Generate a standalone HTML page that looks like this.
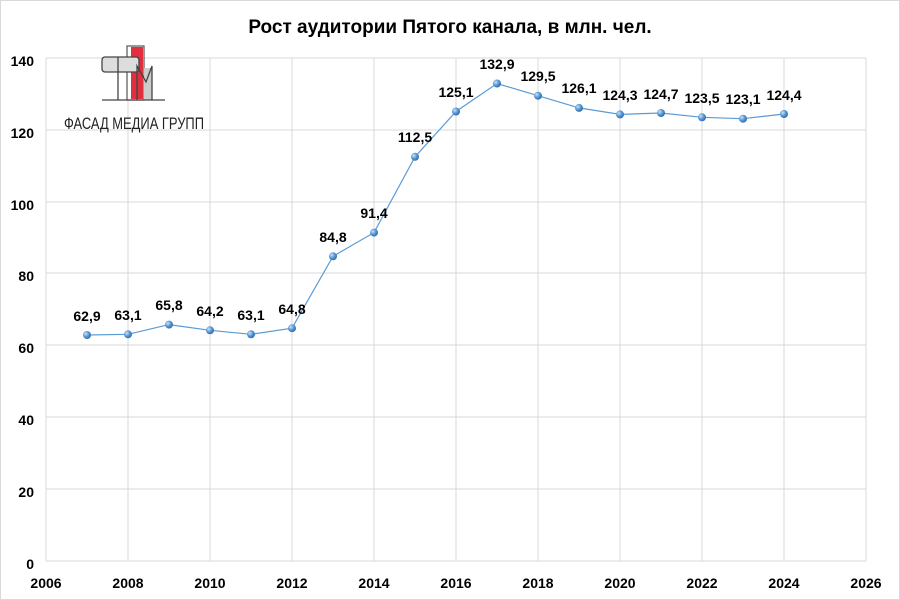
<!DOCTYPE html>
<html><head><meta charset="utf-8"><style>
body{margin:0;background:#fff}
svg{display:block;font-family:"Liberation Sans",Arial,sans-serif}
</style></head><body>
<svg width="900" height="600" viewBox="0 0 900 600">
<rect x="0.5" y="0.5" width="899" height="599" fill="#fff" stroke="#d9d9d9"/>
<text x="450" y="33" text-anchor="middle" font-size="19" font-weight="bold" fill="#000">Рост аудитории Пятого канала, в млн. чел.</text>
<g stroke="#d9d9d9" stroke-width="1">
<line x1="46" y1="58" x2="866" y2="58"/><line x1="46" y1="130" x2="866" y2="130"/><line x1="46" y1="202" x2="866" y2="202"/><line x1="46" y1="273" x2="866" y2="273"/><line x1="46" y1="345" x2="866" y2="345"/><line x1="46" y1="417" x2="866" y2="417"/><line x1="46" y1="489" x2="866" y2="489"/><line x1="46" y1="561" x2="866" y2="561"/>
<line x1="46" y1="58" x2="46" y2="561"/><line x1="128" y1="58" x2="128" y2="561"/><line x1="210" y1="58" x2="210" y2="561"/><line x1="292" y1="58" x2="292" y2="561"/><line x1="374" y1="58" x2="374" y2="561"/><line x1="456" y1="58" x2="456" y2="561"/><line x1="538" y1="58" x2="538" y2="561"/><line x1="620" y1="58" x2="620" y2="561"/><line x1="702" y1="58" x2="702" y2="561"/><line x1="784" y1="58" x2="784" y2="561"/><line x1="866" y1="58" x2="866" y2="561"/>
</g>
<g font-size="14" font-weight="bold" text-anchor="end" fill="#000">
<text x="34" y="66">140</text><text x="34" y="138">120</text><text x="34" y="210">100</text><text x="34" y="281">80</text><text x="34" y="353">60</text><text x="34" y="425">40</text><text x="34" y="497">20</text><text x="34" y="569">0</text>
</g>
<g font-size="14" font-weight="bold" text-anchor="middle" fill="#000">
<text x="46" y="588">2006</text><text x="128" y="588">2008</text><text x="210" y="588">2010</text><text x="292" y="588">2012</text><text x="374" y="588">2014</text><text x="456" y="588">2016</text><text x="538" y="588">2018</text><text x="620" y="588">2020</text><text x="702" y="588">2022</text><text x="784" y="588">2024</text><text x="866" y="588">2026</text>
</g>
<!-- logo -->
<g>
<rect x="127" y="46" width="17" height="54" fill="#fff" stroke="#555" stroke-width="1.2"/>
<rect x="131" y="47" width="12" height="52" fill="#e03040"/>
<rect x="102" y="57" width="37" height="15" rx="3" fill="#ddd" stroke="#444" stroke-width="1.3"/>
<line x1="118" y1="57" x2="118" y2="100" stroke="#444" stroke-width="1.3"/>
<rect x="144" y="68" width="8" height="32" fill="#ccc"/>
<polyline points="137,100 137,66 146,82 152,66 152,100" fill="none" stroke="#444" stroke-width="1.3"/>
<line x1="102" y1="100" x2="165" y2="100" stroke="#444" stroke-width="1.3"/>
<text x="134" y="129" text-anchor="middle" font-size="17" fill="#222" textLength="140" lengthAdjust="spacingAndGlyphs" font-family="'Liberation Sans Narrow','Liberation Sans',sans-serif">ФАСАД МЕДИА ГРУПП</text>
</g>
<polyline fill="none" stroke="#5b9bd5" stroke-width="1.2" points="87,335 128,334.3 169,324.6 210,330.3 251,334.3 292,328.2 333,256.3 374,232.6 415,156.8 456,111.5 497,83.5 538,95.7 579,107.9 620,114.4 661,113 702,117.3 743,118.7 784,114"/>
<defs><radialGradient id="g" cx="0.35" cy="0.35" r="0.7"><stop offset="0" stop-color="#cfe3f7"/><stop offset="0.5" stop-color="#5b9bd5"/><stop offset="1" stop-color="#2d6aa8"/></radialGradient></defs>
<g fill="url(#g)">
<circle cx="87" cy="335" r="4"/><circle cx="128" cy="334.3" r="4"/><circle cx="169" cy="324.6" r="4"/><circle cx="210" cy="330.3" r="4"/><circle cx="251" cy="334.3" r="4"/><circle cx="292" cy="328.2" r="4"/><circle cx="333" cy="256.3" r="4"/><circle cx="374" cy="232.6" r="4"/><circle cx="415" cy="156.8" r="4"/><circle cx="456" cy="111.5" r="4"/><circle cx="497" cy="83.5" r="4"/><circle cx="538" cy="95.7" r="4"/><circle cx="579" cy="107.9" r="4"/><circle cx="620" cy="114.4" r="4"/><circle cx="661" cy="113" r="4"/><circle cx="702" cy="117.3" r="4"/><circle cx="743" cy="118.7" r="4"/><circle cx="784" cy="114" r="4"/>
</g>
<g font-size="14" font-weight="bold" text-anchor="middle" fill="#000">
<text x="87" y="321">62,9</text><text x="128" y="320">63,1</text><text x="169" y="310">65,8</text><text x="210" y="316">64,2</text><text x="251" y="320">63,1</text><text x="292" y="314">64,8</text><text x="333" y="242">84,8</text><text x="374" y="218">91,4</text><text x="415" y="142">112,5</text><text x="456" y="97">125,1</text><text x="497" y="69">132,9</text><text x="538" y="81">129,5</text><text x="579" y="93">126,1</text><text x="620" y="100">124,3</text><text x="661" y="99">124,7</text><text x="702" y="103">123,5</text><text x="743" y="104">123,1</text><text x="784" y="100">124,4</text>
</g>
</svg>
</body></html>
